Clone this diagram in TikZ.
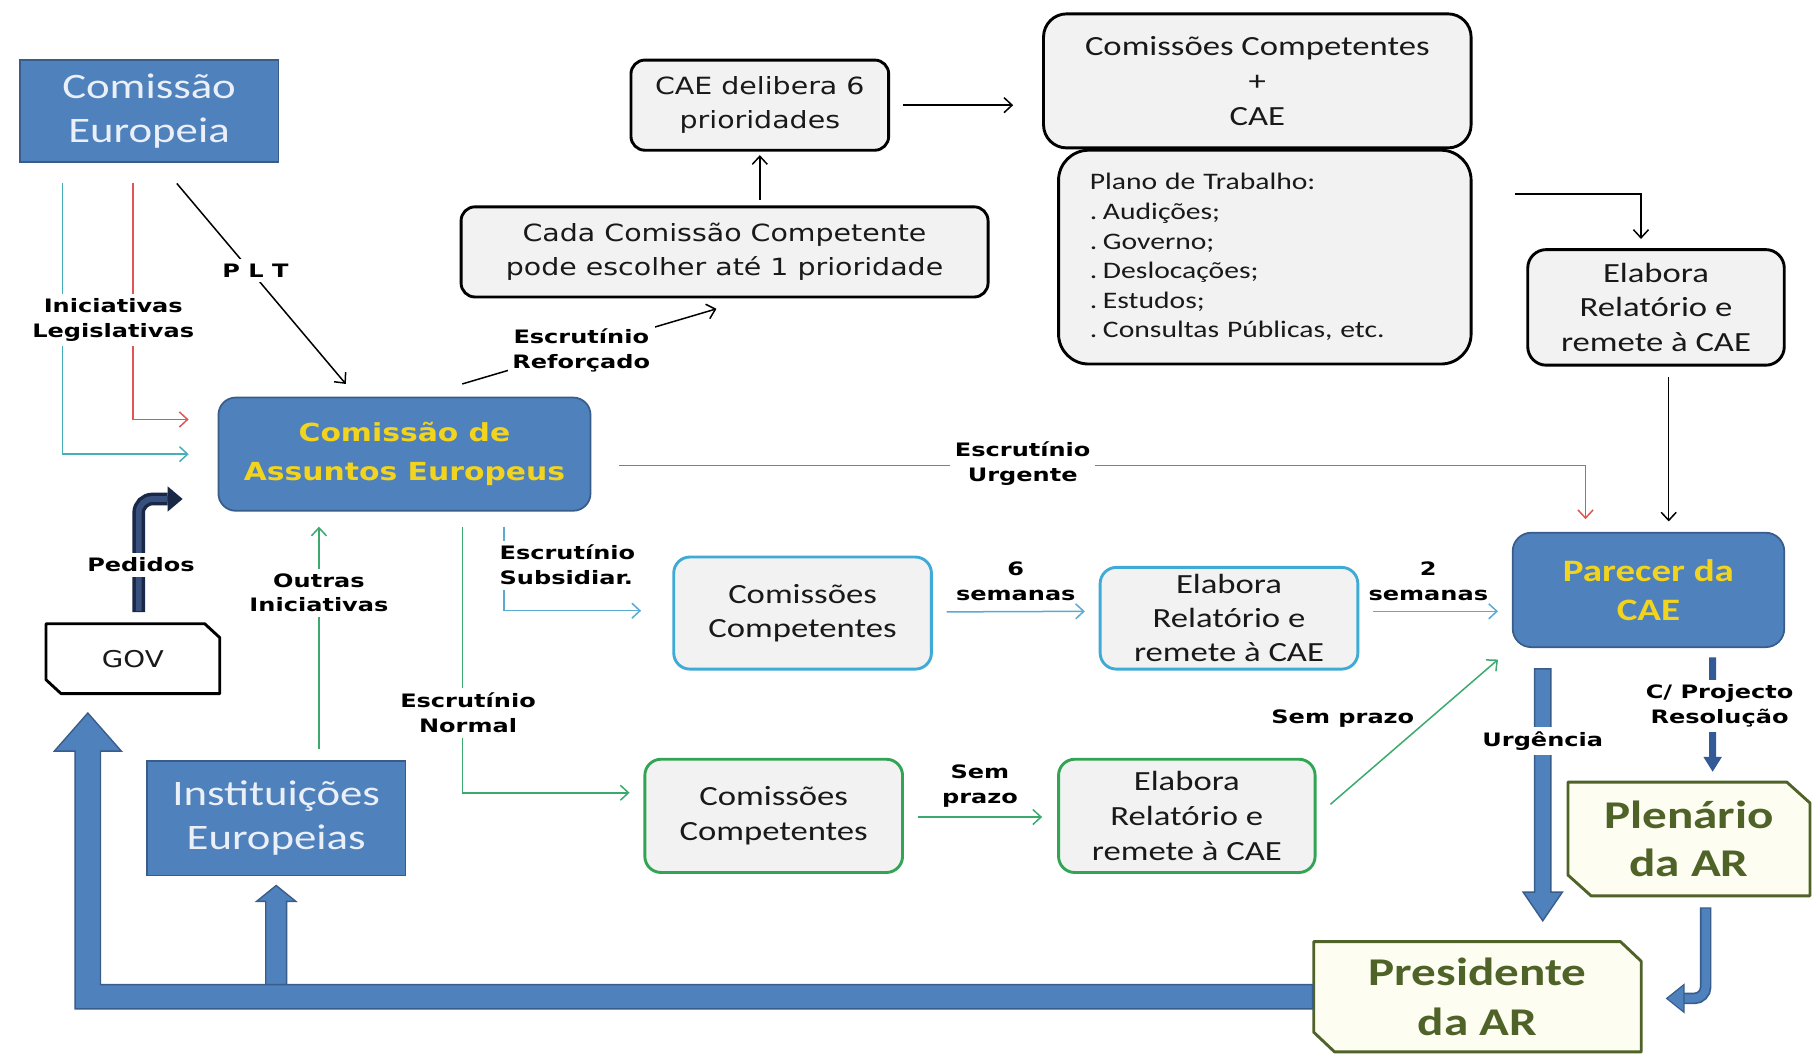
\documentclass[tikz,border=0pt]{standalone}
\usepackage{fontspec}
\setmainfont{Carlito}
\newfontfamily\fcal{Carlito}[FakeStretch=1.25]
\newfontfamily\fdv{DejaVu Sans}[FakeStretch=1.2]
\newfontfamily\flab{DejaVu Sans}[FakeStretch=1.3]
\usetikzlibrary{arrows.meta,calc,backgrounds}
\definecolor{blueA}{RGB}{79,129,189}
\definecolor{blueD}{RGB}{56,93,138}
\definecolor{blueM}{RGB}{50,90,150}
\definecolor{yel}{RGB}{242,212,30}
\definecolor{ceText}{RGB}{235,240,248}
\definecolor{grayF}{RGB}{242,242,242}
\definecolor{txt}{RGB}{25,25,25}
\definecolor{cyanB}{RGB}{64,170,215}
\definecolor{cyanL}{RGB}{90,170,210}
\definecolor{greenB}{RGB}{50,165,85}
\definecolor{greenL}{RGB}{60,170,110}
\definecolor{tealL}{RGB}{70,175,185}
\definecolor{redL}{RGB}{225,85,85}
\definecolor{oliveG}{RGB}{79,98,40}
\definecolor{creamF}{RGB}{253,253,242}
\definecolor{navyD}{RGB}{25,40,70}
\definecolor{navyL}{RGB}{55,80,125}
\newcommand\pdot{.\hspace{5pt}}
\begin{document}
\begin{tikzpicture}[x=1pt,y=-1pt,
  arr/.style={-{Straight Barb[length=7pt,width=13pt,line width=1.3pt]}, line width=1.3pt},
  bluesq/.style={rectangle, fill=blueA, draw=blueD, line width=1.5pt, text=ceText, align=center, inner sep=0pt,
     font=\fcal\fontsize{31}{38}\selectfont},
  caebox/.style={rectangle, rounded corners=15pt, fill=blueA, draw=blueD, line width=1.5pt, text=yel, align=center, inner sep=0pt,
     font=\fdv\bfseries\fontsize{21.5}{34}\selectfont},
  graybox/.style={rectangle, rounded corners=12pt, fill=grayF, draw=black, line width=2.5pt, text=txt, align=center, inner sep=0pt},
  cyanbox/.style={graybox, draw=cyanB, rounded corners=14pt, font=\fcal\fontsize{24}{29.5}\selectfont},
  greenbox/.style={graybox, draw=greenB, rounded corners=14pt, font=\fcal\fontsize{24}{30}\selectfont},
  cutnode/.style={rectangle, inner sep=0pt, align=center},
  lab/.style={fill=white, inner sep=4pt, align=center, text=black, font=\flab\bfseries\fontsize{16}{21.5}\selectfont},
  labn/.style={inner sep=1pt, align=center, text=black, font=\flab\bfseries\fontsize{16}{21.5}\selectfont},
  thick arrow/.style={fill=blueA, draw=blueD, line width=1.2pt}
]
\useasboundingbox (0,0) rectangle (1568,912);

% ---------- nodes ----------
\node[bluesq, minimum width=224pt, minimum height=88pt] (ce) at (129,96) {Comissão\\Europeia};
\node[bluesq, minimum width=224pt, minimum height=99pt] (inst) at (239,708) {Instituições\\Europeias};
\node[caebox, minimum width=322pt, minimum height=98pt] (cae) at (350,393) {Comissão de\\Assuntos Europeus};
\node[graybox, font=\fdv\fontsize{20.5}{29}\selectfont, minimum width=456pt, minimum height=78pt] (cada) at (627,218)
  {Cada Comissão Competente\\pode escolher até 1 prioridade};
\node[graybox, font=\fdv\fontsize{20.5}{29}\selectfont, minimum width=223pt, minimum height=78pt] (delib) at (657.5,91)
  {CAE delibera 6\\prioridades};
\node[graybox, rounded corners=20pt, font=\fcal\fontsize{24}{30}\selectfont, minimum width=370pt, minimum height=116pt] (cccae) at (1088,70)
  {Comissões Competentes\\+\\CAE};
\node[graybox, rounded corners=26pt, font=\fcal\fontsize{20.5}{25.6}\selectfont, minimum width=357pt, minimum height=185pt,
  text width=303pt, align=left] (plano) at (1094.5,222.5)
  {Plano de Trabalho:\\\pdot Audições;\\\pdot Governo;\\\pdot Deslocações;\\\pdot Estudos;\\\pdot Consultas Públicas, etc.};
\node[graybox, rounded corners=16pt, font=\fcal\fontsize{24}{30}\selectfont, minimum width=222pt, minimum height=100pt] (elab1) at (1433,266)
  {Elabora\\Relatório e\\remete à CAE};
\node[caebox, rounded corners=16pt, font=\fcal\bfseries\fontsize{27}{34}\selectfont, minimum width=235pt, minimum height=99pt] (parecer) at (1426.5,510.5)
  {Parecer da\\CAE};
\node[cyanbox, minimum width=223pt, minimum height=97pt] (ccb) at (694.5,530.5) {Comissões\\Competentes};
\node[cyanbox, minimum width=223pt, minimum height=88pt] (elabb) at (1063.5,535) {Elabora\\Relatório e\\remete à CAE};
\node[greenbox, minimum width=223pt, minimum height=98pt] (ccg) at (669.5,706) {Comissões\\Competentes};
\node[greenbox, minimum width=222pt, minimum height=98pt] (elabg) at (1027,706) {Elabora\\Relatório e\\remete à CAE};
\node[cutnode, text=txt, font=\fdv\fontsize{20}{24}\selectfont, minimum width=150pt, minimum height=60pt] (gov) at (115,570) {GOV};
\node[cutnode, text=oliveG, font=\fcal\bfseries\fontsize{34}{42}\selectfont, minimum width=209pt, minimum height=98pt] (plen) at (1461.5,726) {Plenário\\da AR};
\node[cutnode, text=oliveG, font=\fcal\bfseries\fontsize{34}{43}\selectfont, minimum width=283pt, minimum height=95pt] (pres) at (1278.5,862.5) {Presidente\\da AR};

% ---------- background shapes ----------
\begin{scope}[on background layer]
\fill[white] (0,0) rectangle (1568,912);
\draw[line width=2.5pt, fill=white, line join=round]
  (gov.north west) -- ($(gov.north east)+(-13,0)$) -- ($(gov.north east)+(0,12)$) -- (gov.south east)
  -- ($(gov.south west)+(13,0)$) -- ($(gov.south west)+(0,-12)$) -- cycle;
\draw[line width=2.5pt, draw=oliveG, fill=creamF, line join=round]
  (plen.north west) -- ($(plen.north east)+(-20,0)$) -- ($(plen.north east)+(0,18)$) -- (plen.south east)
  -- ($(plen.south west)+(20,0)$) -- ($(plen.south west)+(0,-18)$) -- cycle;
\draw[line width=2.5pt, draw=oliveG, fill=creamF, line join=round]
  (pres.north west) -- ($(pres.north east)+(-18,0)$) -- ($(pres.north east)+(0,17)$) -- (pres.south east)
  -- ($(pres.south west)+(18,0)$) -- ($(pres.south west)+(0,-17)$) -- cycle;
\end{scope}

% ---------- thin connectors ----------
\coordinate (tS) at ($(ce.south west)+(38,18)$);
\coordinate (rS) at ($(ce.south west)+(99,18)$);
\coordinate (pltS) at ($(ce.south)+(24,18)$);
\draw[arr, tealL] (tS) |- ($(cae.west)+(-25,0)$);
\draw[arr, redL] (rS) |- ($(cae.west)+(-25,-30)$);
\draw[arr, black] (pltS) -- ($(cae.north west)+(111,-11)$);
\node[lab] (lplt) at (221,234) {P L T};
\node[lab] (lini) at (98,277) {Iniciativas\\Legislativas};

\draw[arr, black] ($(cae.north)+(50,-11)$) -- ($(cada.south)+(-7,9)$);
\node[lab] (lref) at (503,303) {Escrutínio\\Reforçado};

\draw[arr, black, shorten <=5pt, shorten >=3pt] (delib.south |- cada.north) -- (delib.south);
\draw[arr, black, shorten <=11pt, shorten >=25pt] (delib.east) -- (delib.east -| cccae.west);
\draw[arr, black] ($(plano.east)+(37,-54.5)$) -| ($(elab1.north)+(-13,-8)$);
\draw[arr, black] ($(elab1.south)+(11,9)$) -- ($(parecer.north)+(17.5,-9)$);

\draw[arr, redL] ($(cae.east)+(24,10)$) -| ($(parecer.north)+(-54.5,-11)$);
\node[lab] (lurg) at (885,401) {Escrutínio\\Urgente};

\draw[arr, cyanL] ($(cae.south)+(86,13)$) |- ($(ccb.west)+(-27,-2)$);
\node[lab, align=left] (lsub) at (491,489) {Escrutínio\\Subsidiar.};

\draw[arr, greenL] ($(cae.south)+(50,13)$) |- ($(ccg.west)+(-12,-20)$);
\node[lab] (lnorm) at (405,617) {Escrutínio\\Normal};

\draw[arr, cyanL] ($(ccb.east)+(12,-1)$) -- ($(elabb.west)+(-12,-6)$);
\node[labn] (l6) at (879,503) {6\\semanas};
\draw[arr, cyanL] ($(elabb.east)+(12,-6)$) -- ($(parecer.west)+(-12,18.5)$);
\node[labn] (l2) at (1236,503) {2\\semanas};

\draw[arr, greenL] ($(ccg.east)+(12,1)$) -- ($(elabg.west)+(-13,1)$);
\node[labn] (lsp1) at (848,680) {Sem\\prazo};
\draw[arr, greenL] ($(elabg.east)+(12,-10)$) -- ($(parecer.south west)+(-12,10)$);
\node[labn] (lsp2) at (1162,622) {Sem prazo};

\draw[arr, greenL] ($(inst.north)+(37,-10)$) -- ($(cae.south)+(-74,13)$);
\node[lab] (lout) at (276,513) {Outras\\Iniciativas};

% ---------- thick arrows ----------
\coordinate (pedE) at ($(gov.north)+(30,-108)$);
\draw[line width=11pt, navyD, rounded corners=12pt] ($(gov.north)+(5,-10)$) |- (pedE);
\draw[line width=5pt, navyL, rounded corners=12pt] ($(gov.north)+(5,-11)$) |- ($(pedE)+(1,0)$);
\fill[navyD] ($(pedE)+(0,-11)$) -- ($(pedE)+(13,0)$) -- ($(pedE)+(0,11)$) -- cycle;
\node[lab] (lped) at (122,489) {Pedidos};

\coordinate (bigTip) at (76,617);
\path[thick arrow] (230,853) -- (230,780) -- (222,780) -- ($(inst.south)+(0,8)$) -- (256,780) -- (248,780) -- (248,853) -- cycle;
\path[thick arrow] ($(pres.west)+(-1,-10.5)$) -- (87,852) -- (87,650) -- (105,650) -- (bigTip) -- (47,650) -- (65,650)
  -- (65,873) -- ($(pres.west)+(-1,10.5)$) -- cycle;

\path[thick arrow] ($(parecer.south)+(-98.5,18)$) -- (1328,772) -- (1318,772) -- ($(pres.north)+(56.5,-18)$)
  -- (1352,772) -- (1342,772) -- ($(parecer.south)+(-84.5,18)$) -- cycle;
\node[lab] (lurgc) at (1335,641) {Urgência};

\path[fill=blueM] ($(parecer.south)+(52.5,8)$) -- (1479,655) -- (1474,655) -- ($(plen.north)+(20.5,-9)$)
  -- (1490,655) -- (1485,655) -- ($(parecer.south)+(58.5,8)$) -- cycle;
\node[lab] (lcp) at (1488,611) {C/ Projecto\\Resolução};

\coordinate (ppE) at ($(pres.east)+(36,1.5)$);
\draw[line width=10pt, blueD, rounded corners=10pt] ($(plen.south)+(14.5,10)$) |- (ppE);
\draw[line width=7pt, blueA, rounded corners=10pt] ($(plen.south)+(14.5,11)$) |- ($(ppE)+(1,0)$);
\path[thick arrow, line width=1pt] ($(ppE)+(1,-12)$) -- ($(pres.east)+(22,1.5)$) -- ($(ppE)+(1,12)$) -- cycle;
\end{tikzpicture}
\end{document}
